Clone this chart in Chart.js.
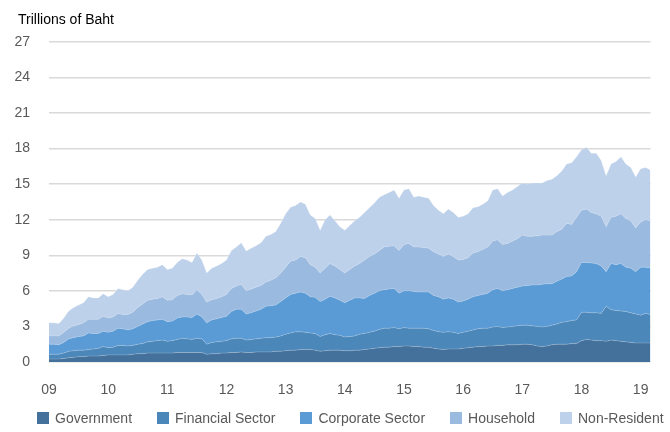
<!DOCTYPE html>
<html>
<head>
<meta charset="utf-8">
<script src="https://cdn.jsdelivr.net/npm/chart.js@4.4.1/dist/chart.umd.min.js"></script>
<style>
  body { margin: 0; background: #fff; }
  #wrap { position: relative; width: 670px; height: 432px; }
  #legend {
    position: absolute; left: 37px; top: 409px;
    display: flex; gap: 25px;
    font: 14px 'Liberation Sans', Arial, sans-serif; color: #595959; line-height: 18px;
  }
  #legend .item { display: flex; align-items: center; white-space: nowrap; }
  #legend .box { width: 12px; height: 12px; margin-right: 6px; }
</style>
</head>
<body>
<div id="wrap"><canvas id="myChart"></canvas><div id="legend"></div></div>
<script>
// monthly, Jan 2009 - Mar 2019 (trillions of baht)
const years = [2009, 2010, 2011, 2012, 2013, 2014, 2015, 2016, 2017, 2018, 2019]
const tickLabels = ['09', '10', '11', '12', '13', '14', '15', '16', '17', '18', '19']

const government = [
  0.25, 0.25, 0.25, 0.3, 0.35, 0.4, 0.45, 0.45, 0.5, 0.5, 0.5, 0.55,
  0.6, 0.6, 0.6, 0.6, 0.6, 0.65, 0.7, 0.7, 0.75, 0.75, 0.75, 0.75,
  0.75, 0.75, 0.8, 0.8, 0.8, 0.8, 0.8, 0.8, 0.65, 0.7, 0.7, 0.75,
  0.75, 0.8, 0.8, 0.85, 0.8, 0.8, 0.85, 0.85, 0.85, 0.85, 0.9, 0.9,
  0.95, 1.0, 1.0, 1.05, 1.05, 1.05, 1.0, 0.9, 0.95, 1.0, 1.0, 1.0,
  0.95, 0.95, 1.0, 1.0, 1.05, 1.1, 1.15, 1.2, 1.25, 1.25, 1.3, 1.3,
  1.35, 1.35, 1.3, 1.3, 1.25, 1.25, 1.15, 1.1, 1.05, 1.1, 1.1, 1.1,
  1.15, 1.2, 1.25, 1.3, 1.3, 1.35, 1.35, 1.4, 1.4, 1.45, 1.45, 1.45,
  1.5, 1.5, 1.45, 1.35, 1.3, 1.35, 1.45, 1.5, 1.5, 1.5, 1.55, 1.55,
  1.8, 1.9, 1.85, 1.8, 1.8, 1.75, 1.85, 1.8, 1.75, 1.7, 1.65, 1.6,
  1.6, 1.6, 1.6
]
const financial = [
  0.4, 0.4, 0.4, 0.45, 0.55, 0.55, 0.55, 0.55, 0.55, 0.6, 0.65, 0.75,
  0.6, 0.65, 0.8, 0.8, 0.75, 0.75, 0.8, 0.85, 0.95, 1.0, 1.05, 1.1,
  1.0, 1.05, 1.1, 1.2, 1.15, 1.1, 1.2, 1.15, 0.85, 0.95, 1.0, 1.0,
  1.05, 1.15, 1.2, 1.15, 1.05, 1.1, 1.1, 1.15, 1.2, 1.2, 1.2, 1.3,
  1.4, 1.45, 1.55, 1.5, 1.45, 1.4, 1.4, 1.25, 1.35, 1.4, 1.3, 1.25,
  1.15, 1.2, 1.2, 1.35, 1.35, 1.4, 1.45, 1.55, 1.6, 1.6, 1.6, 1.5,
  1.55, 1.5, 1.55, 1.55, 1.6, 1.55, 1.5, 1.45, 1.45, 1.45, 1.4, 1.3,
  1.35, 1.4, 1.45, 1.5, 1.55, 1.5, 1.6, 1.6, 1.5, 1.5, 1.55, 1.6,
  1.6, 1.6, 1.6, 1.65, 1.65, 1.65, 1.65, 1.7, 1.85, 1.9, 1.95, 2.0,
  2.4, 2.3, 2.3, 2.35, 2.3, 2.95, 2.55, 2.55, 2.55, 2.55, 2.5, 2.45,
  2.35, 2.5, 2.4
]
const corporate = [
  0.85, 0.85, 0.8, 0.9, 1.05, 1.1, 1.15, 1.2, 1.4, 1.3, 1.25, 1.3,
  1.3, 1.35, 1.45, 1.4, 1.35, 1.4, 1.5, 1.65, 1.7, 1.75, 1.75, 1.75,
  1.65, 1.65, 1.8, 1.8, 1.85, 1.85, 2.05, 1.85, 1.8, 1.9, 1.95, 2.0,
  2.05, 2.3, 2.45, 2.45, 2.2, 2.25, 2.35, 2.45, 2.65, 2.7, 2.7, 2.9,
  3.05, 3.25, 3.25, 3.35, 3.3, 3.05, 3.05, 2.95, 3.0, 3.15, 3.1, 2.95,
  2.9, 3.05, 3.2, 3.05, 2.95, 3.1, 3.2, 3.25, 3.25, 3.3, 3.3, 3.0,
  3.1, 3.15, 3.1, 3.05, 3.05, 3.1, 2.95, 2.95, 2.8, 2.85, 2.8, 2.65,
  2.65, 2.7, 2.8, 2.8, 2.85, 2.95, 3.15, 3.2, 3.1, 3.15, 3.2, 3.25,
  3.3, 3.35, 3.45, 3.5, 3.6, 3.6, 3.5, 3.6, 3.65, 3.8, 3.75, 4.05,
  4.2, 4.2, 4.2, 4.15, 4.0, 2.9, 3.9, 3.85, 4.0, 3.75, 3.75, 3.55,
  4.05, 3.9, 3.9
]
const household = [
  0.7, 0.7, 0.75, 0.85, 0.9, 1.0, 1.0, 1.1, 1.15, 1.2, 1.2, 1.25,
  1.2, 1.2, 1.25, 1.2, 1.3, 1.4, 1.6, 1.7, 1.8, 1.8, 1.8, 1.9,
  1.8, 1.8, 1.9, 1.95, 1.9, 1.9, 2.05, 1.9, 1.75, 1.7, 1.7, 1.75,
  1.85, 1.95, 1.95, 2.1, 1.95, 2.0, 2.0, 2.0, 2.05, 2.15, 2.3, 2.4,
  2.6, 2.8, 2.8, 3.0, 3.0, 2.7, 2.55, 2.4, 2.6, 2.75, 2.7, 2.6,
  2.5, 2.6, 2.7, 2.9, 3.25, 3.3, 3.3, 3.4, 3.6, 3.6, 3.6, 3.6,
  3.9, 4.0, 3.75, 3.8, 3.75, 3.7, 3.7, 3.6, 3.6, 3.7, 3.6, 3.55,
  3.5, 3.5, 3.7, 3.7, 3.8, 3.9, 4.1, 4.1, 3.9, 3.9, 4.0, 4.1,
  4.3, 4.15, 4.1, 4.15, 4.15, 4.1, 4.1, 4.2, 4.2, 4.5, 4.35, 4.6,
  4.4, 4.5, 4.25, 4.2, 4.2, 3.8, 3.9, 4.1, 4.2, 4.1, 4.0, 3.7,
  3.8, 4.0, 4.0
]
const nonResident = [
  1.1, 1.1, 1.05, 1.2, 1.45, 1.55, 1.65, 1.7, 1.9, 1.8, 1.8, 1.9,
  1.8, 1.9, 2.1, 2.1, 2.0, 2.1, 2.3, 2.5, 2.6, 2.6, 2.65, 2.7,
  2.6, 2.65, 2.8, 2.95, 2.9, 2.75, 3.1, 2.9, 2.45, 2.65, 2.75, 2.8,
  2.9, 3.2, 3.3, 3.5, 3.35, 3.45, 3.5, 3.6, 3.85, 3.85, 3.9, 4.2,
  4.5, 4.55, 4.6, 4.6, 4.5, 4.2, 4.1, 3.6, 4.1, 4.1, 3.8, 3.6,
  3.6, 3.7, 3.8, 3.9, 4.0, 4.1, 4.3, 4.5, 4.4, 4.55, 4.7, 4.4,
  4.6, 4.6, 4.2, 4.3, 4.25, 4.2, 3.9, 3.7, 3.6, 3.8, 3.7, 3.6,
  3.65, 3.7, 3.8, 3.8, 3.8, 3.9, 4.3, 4.3, 4.1, 4.3, 4.3, 4.4,
  4.4, 4.4, 4.5, 4.45, 4.4, 4.6, 4.7, 4.7, 4.9, 5.0, 5.2, 5.1,
  5.1, 5.2, 5.0, 5.1, 4.7, 4.3, 4.5, 4.6, 4.8, 4.6, 4.5, 4.3,
  4.5, 4.4, 4.3
]

const seriesNames = ['Government', 'Financial Sector', 'Corporate Sector', 'Household', 'Non-Resident']
const colors = ['#44719c', '#4c87ba', '#5b9bd5', '#9bbae0', '#bed1ea']

// one label per month
const labels = []
years.forEach(y => {
  for (let m = 1; m <= 12; m++) labels.push(y + '-' + m)
})
labels.length = government.length

const font = 'Liberation Sans, Arial, sans-serif'
const series = [government, financial, corporate, household, nonResident]

// title sits a little right of the y labels
const titleShift = {
  id: 'titleShift',
  afterLayout(chart) { chart.titleBlock.left = 18 }
}

const chart = new Chart(document.getElementById('myChart'), {
  type: 'line',
  data: {
    labels: labels,
    datasets: series.map((d, i) => ({
      label: seriesNames[i],
      data: d,
      backgroundColor: colors[i],
      borderColor: 'rgba(255,255,255,0.25)',
      borderWidth: 0.8,
      pointRadius: 0,
      tension: 0,
      fill: i === 0 ? 'origin' : '-1'
    }))
  },
  plugins: [titleShift],
  options: {
    responsive: true,
    maintainAspectRatio: false,
    animation: false,
    layout: { padding: { left: 0, right: 12, top: 4, bottom: 35.5 } },
    plugins: {
      title: {
        display: true,
        text: 'Trillions of Baht',
        align: 'start',
        color: '#000',
        font: { family: font, size: 14, weight: 'normal' },
        padding: { top: 8, bottom: 13 }
      },
      legend: { display: false },
      tooltip: { enabled: false }
    },
    scales: {
      x: {
        offset: false,
        afterFit: scale => { scale.height = 34.5 },
        grid: { display: false, drawTicks: false },
        border: { display: false },
        ticks: {
          autoSkip: false,
          maxRotation: 0,
          padding: 19.5,
          color: '#595959',
          font: { family: font, size: 14 },
          callback: (v, idx) => (idx % 12 === 0 ? tickLabels[idx / 12] : '')
        }
      },
      y: {
        stacked: true,
        min: 0,
        max: 27,
        afterFit: scale => { scale.width = 49 },
        grid: { color: '#d9d9d9', lineWidth: 1.5, drawTicks: false },
        border: { display: false },
        ticks: {
          stepSize: 3,
          padding: 19,
          color: '#595959',
          font: { family: font, size: 14 }
        }
      }
    }
  }
})

// legend as plain html under the canvas
const legendEl = document.getElementById('legend')
chart.data.datasets.forEach(ds => {
  const item = document.createElement('div')
  item.className = 'item'
  const box = document.createElement('span')
  box.className = 'box'
  box.style.background = ds.backgroundColor
  item.appendChild(box)
  item.appendChild(document.createTextNode(ds.label))
  legendEl.appendChild(item)
})
</script>
</body>
</html>
